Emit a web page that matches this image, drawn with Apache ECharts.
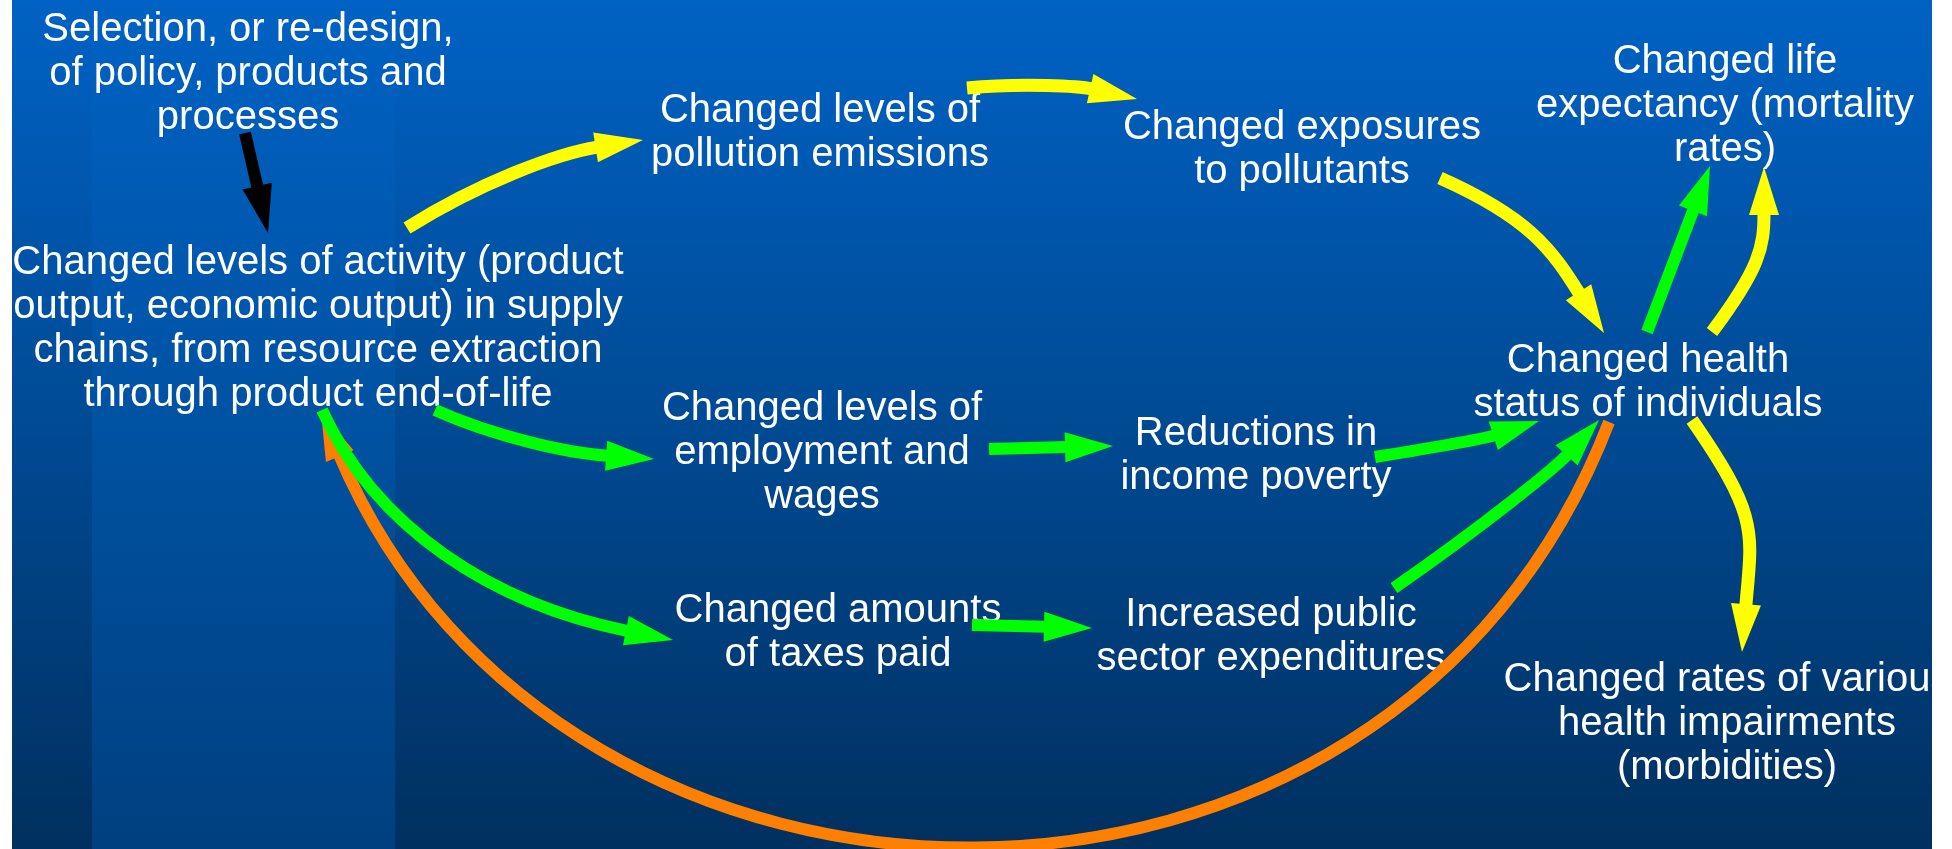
<!DOCTYPE html>
<html>
<head>
<meta charset="utf-8">
<script src="https://cdn.jsdelivr.net/npm/echarts@6/dist/echarts.min.js"></script>
<style>
  html, body { margin: 0; padding: 0; background: #ffffff; }
  #chart { width: 1952px; height: 849px; }
</style>
</head>
<body>
<div id="chart"></div>
<script>
// ---- Diagram content ----
const nodeNames = [
  'Selection, or re-design,\nof policy, products and\nprocesses',
  'Changed levels of activity (product\noutput, economic output) in supply\nchains, from resource extraction\nthrough product end-of-life',
  'Changed levels of\npollution emissions',
  'Changed exposures\nto pollutants',
  'Changed life\nexpectancy (mortality\nrates)',
  'Changed health\nstatus of individuals',
  'Changed levels of\nemployment and\nwages',
  'Reductions in\nincome poverty',
  'Changed amounts\nof taxes paid',
  'Increased public\nsector expenditures',
  'Changed rates of various\nhealth impairments\n(morbidities)'
];

// links: source node index -> target node index, and pathway kind
const linkSource = [5, 0, 1, 2, 3, 5, 5, 1, 6, 7, 1, 8, 9, 5];
const linkTarget = [1, 1, 2, 3, 5, 4, 4, 6, 7, 5, 8, 9, 5, 10];
const linkKind   = ['feedback', 'policy', 'environment', 'environment', 'environment', 'economic', 'environment',
                    'economic', 'economic', 'economic', 'economic', 'economic', 'economic', 'environment'];

// ---- Layout (diagram-space coordinates, styles) ----
const nodeLayout = [
  [248, 74], [318, 329], [820, 133], [1302, 150], [1725, 106], [1648, 383],
  [822, 453], [1256, 456], [838, 633], [1271, 637], [1727, 724]
];
// arrow geometry: tail, control point(s), tip
const arrowGeometry = [
  [[1609, 422], [1390, 993], [560, 975], [321, 412]],
  [[245, 133], [268, 233]],
  [[407, 228], [515, 160], [643, 140]],
  [[967, 88], [1052, 80], [1137, 99]],
  [[1440, 178], [1530, 218], [1552, 250], [1604, 333]],
  [[1647, 332], [1710, 166]],
  [[1712, 332], [1760, 268], [1764, 247], [1764, 167]],
  [[435, 410], [524, 450], [654, 459]],
  [[989, 449], [1113, 446]],
  [[1375, 457], [1480, 440], [1539, 421]],
  [[322, 410], [402, 586], [673, 640]],
  [[972, 625], [1092, 628]],
  [[1394, 588], [1535, 490], [1599, 420]],
  [[1692, 420], [1760, 518], [1752, 532], [1742, 652]]
];
const kindColor = { policy: '#000000', environment: '#ffff00', economic: '#00ff00', feedback: '#ff8000' };
const kindWidth = { policy: 12, environment: 13, economic: 12, feedback: 12 };
const HEAD_LEN = 48, HEAD_W = 30;

function toCubic(pts) {
  if (pts.length === 2) {
    const [a, b] = pts;
    return [a, [a[0] + (b[0] - a[0]) / 3, a[1] + (b[1] - a[1]) / 3],
               [a[0] + 2 * (b[0] - a[0]) / 3, a[1] + 2 * (b[1] - a[1]) / 3], b];
  }
  if (pts.length === 3) {
    const [a, q, b] = pts;
    return [a, [a[0] + 2 / 3 * (q[0] - a[0]), a[1] + 2 / 3 * (q[1] - a[1])],
               [b[0] + 2 / 3 * (q[0] - b[0]), b[1] + 2 / 3 * (q[1] - b[1])], b];
  }
  return pts;
}

const chart = echarts.init(document.getElementById('chart'), null, { renderer: 'canvas' });

const option = {
  animation: false,
  backgroundColor: '#ffffff',
  grid: { left: 0, right: 0, top: 0, bottom: 0, containLabel: false },
  xAxis: { type: 'value', min: 0, max: 1952, show: false },
  yAxis: { type: 'value', min: 0, max: 849, inverse: true, show: false },
  graphic: [
    {
      type: 'rect', silent: true, z: -10,
      shape: { x: 12, y: 0, width: 1920, height: 849 },
      style: { fill: { type: 'linear', x: 0, y: 0, x2: 0, y2: 1, colorStops: [
        { offset: 0, color: '#0062c4' }, { offset: 0.5, color: '#004a94' }, { offset: 1, color: '#00305f' }
      ] } }
    },
    {
      type: 'rect', silent: true, z: -9,
      shape: { x: 92, y: 0, width: 303, height: 849 },
      style: { fill: { type: 'linear', x: 0, y: 0, x2: 0, y2: 1, colorStops: [
        { offset: 0, color: '#0062c4' }, { offset: 0.5, color: '#0052a2' }, { offset: 1, color: '#004080' }
      ] } }
    }
  ],
  series: [
    {
      type: 'scatter',
      z: 1,
      symbolSize: 1,
      itemStyle: { color: 'rgba(0,0,0,0)', opacity: 1 },
      silent: true,
      data: nodeLayout.map((p, i) => ({ name: nodeNames[i], value: p })),
      label: {
        show: true,
        position: 'inside',
        formatter: '{b}',
        color: '#ffffff',
        opacity: 1,
        textBorderWidth: 0,
        fontSize: 40,
        lineHeight: 44,
        fontFamily: '"Liberation Sans", Arial, sans-serif',
        align: 'center',
        verticalAlign: 'middle'
      }
    },
    {
      type: 'custom',
      coordinateSystem: 'cartesian2d',
      z: 3,
      silent: true,
      clip: false,
      data: linkSource.map((s, i) => ({ value: [s, linkTarget[i]] })),
      encode: { x: 0, y: 1 },
      renderItem: function (params, api) {
        const i = params.dataIndex;
        const kind = linkKind[i];
        const color = kindColor[kind];
        const pts = toCubic(arrowGeometry[i]).map(p => api.coord(p));
        const [p0, c1, c2, p3] = pts;
        let dx = p3[0] - c2[0], dy = p3[1] - c2[1];
        let len = Math.sqrt(dx * dx + dy * dy);
        if (len < 1e-6) { dx = p3[0] - p0[0]; dy = p3[1] - p0[1]; len = Math.sqrt(dx * dx + dy * dy); }
        const ux = dx / len, uy = dy / len;
        const bx = p3[0] - ux * HEAD_LEN, by = p3[1] - uy * HEAD_LEN;
        const nx = -uy, ny = ux;
        let c2x = c2[0], c2y = c2[1];
        if (len <= HEAD_LEN + 2) { c2x = bx - ux * 5; c2y = by - uy * 5; }
        return {
          type: 'group',
          children: [
            {
              type: 'bezierCurve',
              shape: { x1: p0[0], y1: p0[1], cpx1: c1[0], cpy1: c1[1], cpx2: c2x, cpy2: c2y, x2: bx + ux * 2, y2: by + uy * 2 },
              style: { stroke: color, lineWidth: kindWidth[kind], fill: null, lineCap: 'butt' }
            },
            {
              type: 'polygon',
              shape: { points: [[p3[0], p3[1]], [bx + nx * HEAD_W / 2, by + ny * HEAD_W / 2], [bx - nx * HEAD_W / 2, by - ny * HEAD_W / 2]] },
              style: { fill: color }
            }
          ]
        };
      }
    }
  ]
};
chart.setOption(option);
</script>
</body>
</html>
